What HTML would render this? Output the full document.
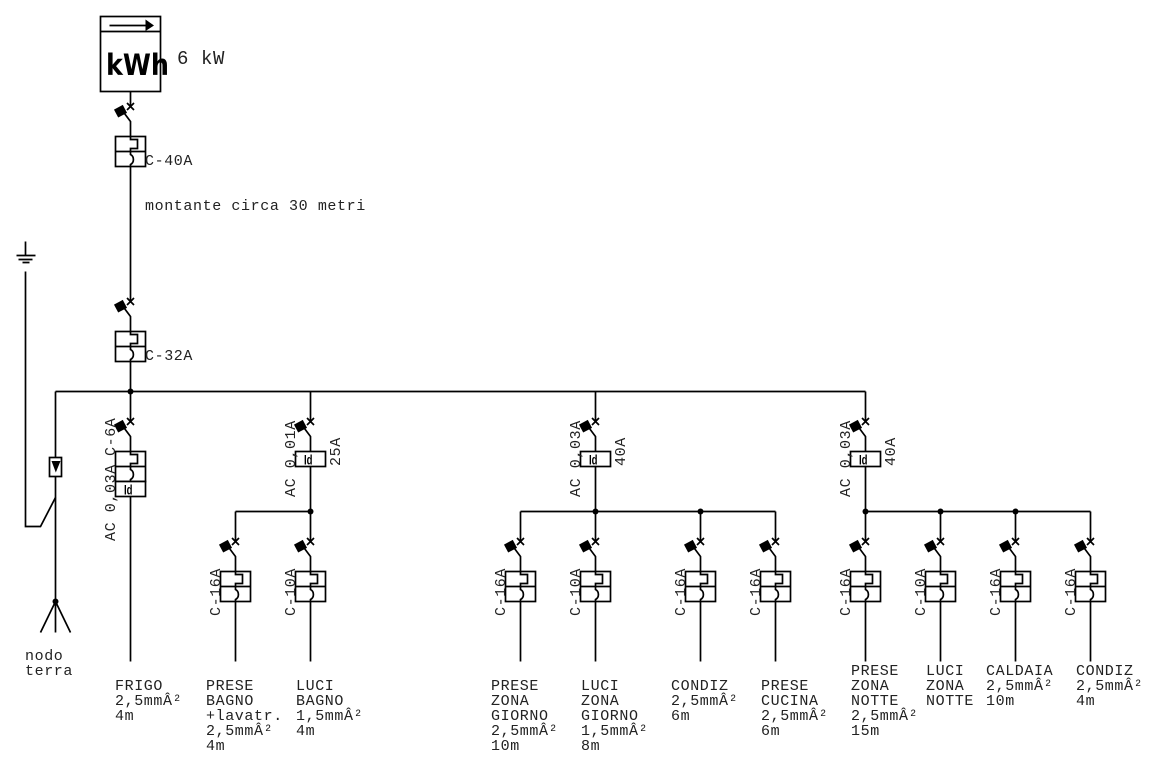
<!DOCTYPE html>
<html>
<head>
<meta charset="utf-8">
<style>
html,body{margin:0;padding:0;background:#fff;width:1155px;height:765px;overflow:hidden}
svg{display:block}
.m{font-family:"Liberation Mono",monospace;font-size:15px;letter-spacing:0.6px;fill:#222}
.b{font-family:"DejaVu Sans",sans-serif;font-weight:bold;font-size:29px;fill:#000}
.k{font-family:"Liberation Mono",monospace;font-size:19px;letter-spacing:0.6px;fill:#222}
.i{font-family:"Liberation Sans",sans-serif;font-size:13.5px;font-weight:bold;fill:#000}
</style>
</head>
<body>
<svg width="1155" height="765" viewBox="0 0 1155 765" xmlns="http://www.w3.org/2000/svg">
<defs>
<g id="sw">
<path d="M-3.5,-3.5L3.5,3.5M-3.5,3.5L3.5,-3.5M-6,7L0,15V30" fill="none" stroke="#000" stroke-width="1.7"/>
<rect x="-15" y="0.2" width="10" height="9" fill="#000" transform="rotate(-28 -10 4.7)"/>
</g>
<g id="br">
<use href="#sw"/>
<rect x="-15" y="30" width="30" height="30" fill="#fff" stroke="#000" stroke-width="1.7"/>
<path d="M-15,45H15" stroke="#000" stroke-width="1.7"/>
<path d="M0,30V33H7V42H0V48A5,5.5 0 0 1 0,58V60" fill="none" stroke="#000" stroke-width="1.7"/>
</g>
<g id="id">
<use href="#sw"/>
<rect x="-15" y="30" width="30" height="15" fill="#fff" stroke="#000" stroke-width="1.7"/>
<text class="i" x="-6.5" y="43" textLength="8.5" lengthAdjust="spacingAndGlyphs">Id</text>
</g>
</defs>

<g transform="translate(0.5,0.5)" fill="none" stroke="#000" stroke-width="1.7">
<!-- meter -->
<rect x="100" y="16" width="60" height="75"/>
<path d="M100,31H160M109,25H146M130,91V106"/>
<path d="M145,19L153.5,25L145,30.5Z" fill="#000" stroke="none"/>
<!-- main -->
<path d="M130,166V301M130,361V421"/>
<path d="M55,391H865M55,391V601"/>
<path d="M310,391V421M595,391V421M865,391V421"/>
<path d="M130,496V661"/>
<path d="M310,466V541M595,466V541M865,466V541"/>
<path d="M235,511H310M520,511H775M865,511H1090"/>
<path d="M235,511V541M520,511V541M700,511V541M775,511V541M940,511V541M1015,511V541M1090,511V541"/>
<path d="M235,601V661M310,601V661M520,601V661M595,601V661M700,601V661M775,601V661M865,601V661M940,601V661M1015,601V661M1090,601V661"/>
<!-- ground -->
<path d="M25,241V255M16,255H35M18,259H32M22,262H29M25,271V526H40L55,497"/>
<path d="M55,601L40,632M55,601V632M55,601L70,632"/>
<rect x="49" y="457" width="12" height="19" fill="#fff"/>
<path d="M51,460.5H60L55.3,472Z" fill="#000" stroke="none"/>
</g>

<g transform="translate(0.5,0.5)" fill="#000">
<circle cx="130" cy="391" r="3"/>
<circle cx="310" cy="511" r="3"/>
<circle cx="595" cy="511" r="3"/>
<circle cx="700" cy="511" r="3"/>
<circle cx="865" cy="511" r="3"/>
<circle cx="940" cy="511" r="3"/>
<circle cx="1015" cy="511" r="3"/>
<circle cx="55" cy="601" r="3"/>
<use href="#br" x="130" y="106"/>
<use href="#br" x="130" y="301"/>
<use href="#br" x="130" y="421"/>
<g transform="translate(130,451)"><rect x="-15" y="30" width="30" height="15" fill="#fff" stroke="#000" stroke-width="1.7"/><text class="i" x="-6.5" y="43" textLength="8.5" lengthAdjust="spacingAndGlyphs">Id</text></g>
<use href="#id" x="310" y="421"/>
<use href="#id" x="595" y="421"/>
<use href="#id" x="865" y="421"/>
<use href="#br" x="235" y="541"/>
<use href="#br" x="310" y="541"/>
<use href="#br" x="520" y="541"/>
<use href="#br" x="595" y="541"/>
<use href="#br" x="700" y="541"/>
<use href="#br" x="775" y="541"/>
<use href="#br" x="865" y="541"/>
<use href="#br" x="940" y="541"/>
<use href="#br" x="1015" y="541"/>
<use href="#br" x="1090" y="541"/>
</g>

<text class="b" x="106" y="75" textLength="63" lengthAdjust="spacingAndGlyphs">kWh</text>
<text class="k" x="177" y="64" xml:space="preserve">6 kW</text>
<text class="m" x="145" y="165">C-40A</text>
<text class="m" x="145" y="360">C-32A</text>
<text class="m" x="145" y="210">montante circa 30 metri</text>
<text class="m" x="25" y="660">nodo</text>
<text class="m" x="25" y="675">terra</text>

<text class="m" transform="translate(115,456) rotate(-90)">C-6A</text>
<text class="m" transform="translate(115,541) rotate(-90)">AC 0,03A</text>
<text class="m" transform="translate(295,497) rotate(-90)">AC 0,01A</text>
<text class="m" transform="translate(340,466) rotate(-90)">25A</text>
<text class="m" transform="translate(580,497) rotate(-90)">AC 0,03A</text>
<text class="m" transform="translate(625,466) rotate(-90)">40A</text>
<text class="m" transform="translate(850,497) rotate(-90)">AC 0,03A</text>
<text class="m" transform="translate(895,466) rotate(-90)">40A</text>

<text class="m" transform="translate(220,616) rotate(-90)">C-16A</text>
<text class="m" transform="translate(295,616) rotate(-90)">C-10A</text>
<text class="m" transform="translate(505,616) rotate(-90)">C-16A</text>
<text class="m" transform="translate(580,616) rotate(-90)">C-10A</text>
<text class="m" transform="translate(685,616) rotate(-90)">C-16A</text>
<text class="m" transform="translate(760,616) rotate(-90)">C-16A</text>
<text class="m" transform="translate(850,616) rotate(-90)">C-16A</text>
<text class="m" transform="translate(925,616) rotate(-90)">C-10A</text>
<text class="m" transform="translate(1000,616) rotate(-90)">C-16A</text>
<text class="m" transform="translate(1075,616) rotate(-90)">C-16A</text>

<text class="m" x="115" y="690">FRIGO</text>
<text class="m" x="115" y="705">2,5mmÂ²</text>
<text class="m" x="115" y="720">4m</text>

<text class="m" x="206" y="690">PRESE</text>
<text class="m" x="206" y="705">BAGNO</text>
<text class="m" x="206" y="720">+lavatr.</text>
<text class="m" x="206" y="735">2,5mmÂ²</text>
<text class="m" x="206" y="750">4m</text>

<text class="m" x="296" y="690">LUCI</text>
<text class="m" x="296" y="705">BAGNO</text>
<text class="m" x="296" y="720">1,5mmÂ²</text>
<text class="m" x="296" y="735">4m</text>

<text class="m" x="491" y="690">PRESE</text>
<text class="m" x="491" y="705">ZONA</text>
<text class="m" x="491" y="720">GIORNO</text>
<text class="m" x="491" y="735">2,5mmÂ²</text>
<text class="m" x="491" y="750">10m</text>

<text class="m" x="581" y="690">LUCI</text>
<text class="m" x="581" y="705">ZONA</text>
<text class="m" x="581" y="720">GIORNO</text>
<text class="m" x="581" y="735">1,5mmÂ²</text>
<text class="m" x="581" y="750">8m</text>

<text class="m" x="671" y="690">CONDIZ</text>
<text class="m" x="671" y="705">2,5mmÂ²</text>
<text class="m" x="671" y="720">6m</text>

<text class="m" x="761" y="690">PRESE</text>
<text class="m" x="761" y="705">CUCINA</text>
<text class="m" x="761" y="720">2,5mmÂ²</text>
<text class="m" x="761" y="735">6m</text>

<text class="m" x="851" y="675">PRESE</text>
<text class="m" x="851" y="690">ZONA</text>
<text class="m" x="851" y="705">NOTTE</text>
<text class="m" x="851" y="720">2,5mmÂ²</text>
<text class="m" x="851" y="735">15m</text>

<text class="m" x="926" y="675">LUCI</text>
<text class="m" x="926" y="690">ZONA</text>
<text class="m" x="926" y="705">NOTTE</text>

<text class="m" x="986" y="675">CALDAIA</text>
<text class="m" x="986" y="690">2,5mmÂ²</text>
<text class="m" x="986" y="705">10m</text>

<text class="m" x="1076" y="675">CONDIZ</text>
<text class="m" x="1076" y="690">2,5mmÂ²</text>
<text class="m" x="1076" y="705">4m</text>
</svg>
</body>
</html>
